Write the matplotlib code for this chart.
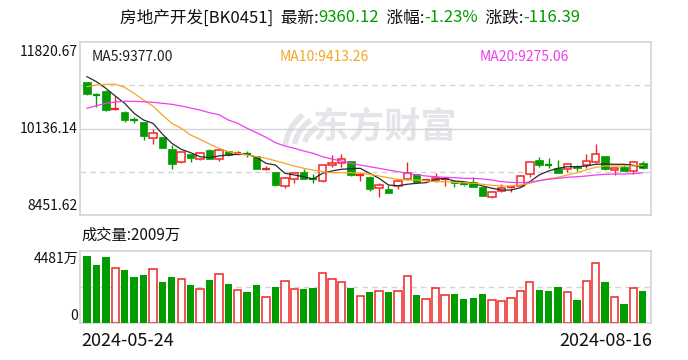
import matplotlib
matplotlib.use('Agg')
import matplotlib.pyplot as plt
from matplotlib.patches import Rectangle, Wedge
from matplotlib.transforms import IdentityTransform

plt.rcParams['font.family'] = ['Noto Sans CJK SC', 'DejaVu Sans']

# 日线数据 (开, 高, 低, 收)
opens = [11042, 10797, 10866, 10510, 10458, 10305, 10263, 9945, 9965, 9737,
         9478, 9634, 9548, 9718, 9548, 9698, 9640, 9640, 9601, 9350,
         9289, 9022, 9153, 9289, 9156, 9108, 9420, 9459, 9503, 9225,
         9198, 8972, 8964, 9016, 9158, 9244, 9133, 9133, 9150, 9122,
         9050, 9089, 8997, 8808, 8919, 8978, 9022, 9244, 9523, 9424,
         9361, 9342, 9400, 9420, 9478, 9601, 9330, 9380, 9303, 9459]
highs = [11050, 10833, 10880, 10769, 10470, 10354, 10270, 10120, 9975, 9815,
         9680, 9640, 9684, 9735, 9751, 9705, 9690, 9690, 9610, 9400,
         9295, 9185, 9289, 9353, 9244, 9425, 9620, 9634, 9510, 9289,
         9210, 9068, 9030, 9147, 9484, 9250, 9160, 9264, 9178, 9130,
         9068, 9186, 9005, 8925, 9049, 9022, 9225, 9485, 9587, 9562,
         9523, 9445, 9425, 9639, 9834, 9610, 9365, 9420, 9484, 9500]
lows = [10794, 10561, 10480, 10500, 10263, 10238, 9912, 9828, 9750, 9353,
        9470, 9478, 9523, 9540, 9503, 9610, 9625, 9580, 9340, 9320,
        9020, 8983, 9081, 9145, 9081, 9100, 9392, 9392, 9215, 9122,
        8925, 8796, 8880, 8964, 9133, 9068, 9125, 9100, 9022, 9003,
        9020, 8995, 8820, 8790, 8900, 8894, 9010, 9198, 9392, 9361,
        9270, 9295, 9315, 9361, 9470, 9328, 9231, 9310, 9250, 9350]
closes = [10814, 10794, 10496, 10520, 10302, 10302, 9990, 10048, 9762, 9439,
          9673, 9568, 9654, 9548, 9718, 9620, 9660, 9620, 9353, 9353,
          9036, 9178, 9264, 9153, 9153, 9420, 9464, 9542, 9225, 9240,
          8964, 9036, 8886, 9114, 9264, 9100, 9150, 9178, 9160, 9069,
          9045, 9003, 8827, 8894, 8983, 8997, 9205, 9478, 9431, 9418,
          9275, 9439, 9373, 9497, 9634, 9347, 9361, 9314, 9476.51, 9360.12]

# 均线
ma5 = [11145, 11048, 10919, 10769, 10627, 10432, 10302, 10237, 10029, 9848,
       9731, 9665, 9587, 9568, 9601, 9620, 9634, 9634, 9575, 9458,
       9425, 9264, 9231, 9197, 9153, 9264, 9309, 9342, 9353, 9361,
       9264, 9166, 9036, 9022, 9050, 9069, 9081, 9147, 9166, 9114,
       9100, 9069, 9016, 8972, 8938, 8938, 8983, 9100, 9231, 9309,
       9361, 9392, 9392, 9406, 9439, 9445, 9439, 9439, 9420, 9377.00]
ma10 = [10950, 10983, 10997, 10997, 10938, 10822, 10691, 10574, 10399, 10237,
        10140, 10010, 9926, 9834, 9751, 9684, 9653, 9620, 9587, 9556,
        9509, 9458, 9406, 9361, 9328, 9295, 9275, 9275, 9275, 9264,
        9244, 9211, 9178, 9147, 9133, 9133, 9120, 9100, 9100, 9088,
        9081, 9069, 9050, 9030, 9016, 9016, 9036, 9069, 9120, 9159,
        9186, 9231, 9275, 9328, 9381, 9406, 9406, 9406, 9406, 9413.26]
ma20 = [10530, 10580, 10627, 10652, 10666, 10666, 10658, 10646, 10627, 10607,
        10574, 10535, 10496, 10444, 10405, 10302, 10237, 10140, 10054, 9965,
        9860, 9795, 9751, 9698, 9653, 9587, 9542, 9503, 9458, 9425,
        9392, 9361, 9328, 9295, 9264, 9231, 9211, 9197, 9186, 9178,
        9166, 9166, 9153, 9133, 9100, 9088, 9081, 9094, 9120, 9147,
        9166, 9186, 9197, 9211, 9231, 9244, 9250, 9250, 9256, 9275.06]

# 成交量 (万)
volumes = [4170, 3610, 4108, 3403, 3299, 2863, 2988, 3340, 2552, 2863,
           2718, 2365, 2095, 2676, 3050, 2427, 2033, 1929, 2365, 1598,
           2241, 2595, 2095, 2116, 2178, 3093, 2718, 2533, 2178, 1662,
           1929, 1971, 1929, 1971, 2907, 1743, 1473, 2158, 1722, 1805,
           1494, 1556, 1805, 1411, 1349, 1535, 1971, 2533, 2054, 1992,
           2241, 1909, 1432, 2595, 3716, 2552, 1598, 1183, 2158, 2009]

price_min, price_max = 8451.62, 11820.67
vol_max = 4481
dates = ['2024-05-24', '2024-08-16']

RED = '#f02424'
GREEN = '#009c00'
GRID = '#d4d4d8'
WM = '#e4e4e9'

W, H = 688, 360
fig = plt.figure(figsize=(W / 100, H / 100), dpi=100)
fig.patch.set_facecolor('white')


def fx(px):
    return px / W


def fy(py):
    return 1 - py / H


ax = fig.add_axes([fx(80), fy(215), fx(571), 173 / H])
ax2 = fig.add_axes([fx(80), fy(323), fx(571), 72 / H])

n = len(closes)
x = list(range(n))
xlim = (-0.743, 59.87)

# 涨跌方向
up = []
for i in range(n):
    if closes[i] > opens[i]:
        up.append(True)
    elif closes[i] < opens[i]:
        up.append(False)
    else:
        up.append(i > 0 and closes[i] >= closes[i - 1])

# K线
bw = 0.8
px_price = (price_max - price_min) / 173
for i in range(n):
    c = RED if up[i] else GREEN
    lo_b = min(opens[i], closes[i])
    hi_b = max(opens[i], closes[i])
    ax.vlines(i, lows[i], lo_b, color=c, lw=1.0, zorder=3)
    ax.vlines(i, hi_b, highs[i], color=c, lw=1.0, zorder=3)
    if hi_b - lo_b < 1.2 * px_price:
        ax.hlines((hi_b + lo_b) / 2, i - bw / 2, i + bw / 2, color=c, lw=1.6, zorder=3)
    elif up[i]:
        ax.add_patch(Rectangle((i - bw / 2, lo_b), bw, hi_b - lo_b, facecolor='white',
                               edgecolor=c, lw=1.1, zorder=3))
    else:
        ax.add_patch(Rectangle((i - bw / 2, lo_b), bw, hi_b - lo_b, facecolor=c,
                               edgecolor=c, lw=0.5, zorder=3))

ax.plot(x, ma5, color='#2a2a2a', lw=0.9, zorder=4)
ax.plot(x, ma10, color='#f5a623', lw=0.9, zorder=4)
ax.plot(x, ma20, color='#f23cf2', lw=0.9, zorder=4)

ax.set_xlim(*xlim)
ax.set_ylim(price_min, price_max)
q = (price_max - price_min) / 4
ax.axhline(price_min + q, color=GRID, lw=1, ls=(0, (4, 3)), zorder=1)
ax.axhline(price_min + 2 * q, color=GRID, lw=1, zorder=1)
ax.axhline(price_min + 3 * q, color=GRID, lw=1, ls=(0, (4, 3)), zorder=1)

# 水印
ax.text(0.534, 0.506, '东方财富', transform=ax.transAxes, fontsize=26, fontweight='bold',
        color=WM, ha='center', va='center', zorder=0.5)
# logo (三道弧线)
cx, cy = 332, H - 152
for r, t1, t2 in [(50, 128, 172), (41, 124, 168), (32, 120, 160)]:
    ax.add_patch(Wedge((cx, cy), r, t1, t2, width=5.5, transform=IdentityTransform(),
                       facecolor=WM, edgecolor='none', zorder=0.5))

# 成交量
for i in range(n):
    if up[i]:
        ax2.bar(i, volumes[i], width=0.78, facecolor='white', edgecolor=RED, lw=1.1, zorder=3)
    else:
        ax2.bar(i, volumes[i], width=0.78, color=GREEN, lw=0, zorder=3)
ax2.set_xlim(*xlim)
ax2.set_ylim(0, vol_max)
ax2.axhline(vol_max / 2, color=GRID, lw=1, ls=(0, (4, 3)), zorder=1)

for a in (ax, ax2):
    a.set_xticks([])
    a.set_yticks([])
    for s in a.spines.values():
        s.set_color(GRID)
        s.set_linewidth(1.2)

# 坐标标签
lab = dict(fontsize=10, color='#111111', ha='right')
fig.text(fx(78), fy(45), '11820.67', va='top', **lab)
fig.text(fx(78), fy(129), '10136.14', va='center', **lab)
fig.text(fx(78), fy(213), '8451.62', va='bottom', **lab)
fig.text(fx(78), fy(252), '4481万', va='top', **lab)
fig.text(fx(78), fy(323), '0', va='bottom', **lab)

fig.text(fx(92), fy(57), 'MA5:9377.00', fontsize=10, color='#222222', va='center')
fig.text(fx(280), fy(57), 'MA10:9413.26', fontsize=10, color='#f5a623', va='center')
fig.text(fx(480), fy(57), 'MA20:9275.06', fontsize=10, color='#f23cf2', va='center')

fig.text(fx(81), fy(235), '成交量:2009万', fontsize=11, color='#111111', va='center')

fig.text(fx(81), fy(341), dates[0], fontsize=13, color='#111111', va='center')
fig.text(fx(652), fy(341), dates[1], fontsize=13, color='#111111', va='center', ha='right')

# 标题 (分段着色)
parts = [('房地产开发[BK0451]  最新:', '#111111'), ('9360.12', GREEN),
         ('  涨幅:', '#111111'), ('-1.23%', GREEN),
         ('  涨跌:', '#111111'), ('-116.39', GREEN)]
renderer = fig.canvas.get_renderer()
texts = []
cur = 0
for s, c in parts:
    t = fig.text(0, fy(18), s, fontsize=12, color=c, va='center')
    w = t.get_window_extent(renderer).width
    texts.append((t, cur))
    cur += w
start = (W - cur) / 2 + 6
for t, off in texts:
    t.set_x(fx(start + off))

fig.savefig('out.png', dpi=100)
